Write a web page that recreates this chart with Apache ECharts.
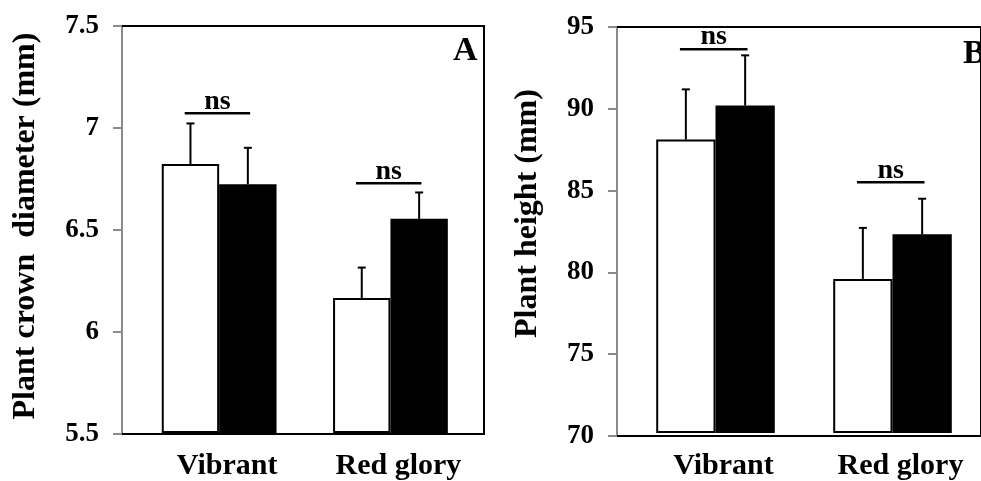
<!DOCTYPE html>
<html><head><meta charset="utf-8">
<script src="https://cdn.jsdelivr.net/npm/echarts@6/dist/echarts.min.js"></script>
<style>html,body{margin:0;padding:0;background:#fff}#c{width:981px;height:481px}</style>
</head><body><div id="c"></div>
<script>
// ---- data ----
const categories = ['Vibrant', 'Red glory'];
const panelLabels = ['A', 'B'];
const sigLabel = 'ns';

// Panel A: plant crown diameter (mm)
const crownOpen = [6.82, 6.16];
const crownOpenErr = [0.20, 0.15];
const crownFilled = [6.72, 6.55];
const crownFilledErr = [0.18, 0.13];
const crownNsLevel = [7.07, 6.725];
const crownMin = 5.5, crownMax = 7.5, crownStep = 0.5;
const crownTitle = 'Plant crown  diameter (mm)';

// Panel B: plant height (mm)
const heightOpen = [88.05, 79.45];
const heightOpenErr = [3.10, 3.15];
const heightFilled = [90.15, 82.2];
const heightFilledErr = [3.10, 2.2];
const heightNsLevel = [93.63, 85.41];
const heightMin = 70, heightMax = 95, heightStep = 5;
const heightTitle = 'Plant height (mm)';

// ---- styles ----
const FONT = '"Liberation Serif", "Times New Roman", serif';
const GAP = 0.33;
const AXIS_GRAY = '#8a8a8a';

function errRender(side) {
  return function (params, api) {
    const cat = api.value(0), top = api.value(1), up = api.value(2);
    const band = api.size([1, 0])[0];
    const bw = band * (1 - GAP) / 2;
    const p0 = api.coord([cat, top]);
    const p1 = api.coord([cat, up]);
    const cx = p0[0] + side * bw / 2;
    return {
      type: 'group', children: [
        { type: 'line', shape: { x1: cx, y1: p0[1], x2: cx, y2: p1[1] }, style: { stroke: '#000', lineWidth: 2 } },
        { type: 'line', shape: { x1: cx - 4, y1: p1[1], x2: cx + 4, y2: p1[1] }, style: { stroke: '#000', lineWidth: 2 } }
      ]
    };
  };
}
function nsRender(params, api) {
  const p = api.coord([api.value(0), api.value(1)]);
  const band = api.size([1, 0])[0];
  const bw = band * (1 - GAP) / 2;
  const x1 = p[0] - bw * 0.6, x2 = p[0] + bw * 0.54;
  return {
    type: 'group', children: [
      { type: 'line', shape: { x1: x1, y1: p[1], x2: x2, y2: p[1] }, style: { stroke: '#000', lineWidth: 2.5 } },
      { type: 'text', x: (x1 + x2) / 2, y: p[1] + 2,
        style: { text: sigLabel, fill: '#000', fontSize: 28, fontWeight: 'bold', fontFamily: FONT, align: 'center', verticalAlign: 'bottom' } }
    ]
  };
}

function frameAxes(gi, min, max, step, title, nameGap, namePad) {
  const xs = [
    { gridIndex: gi, type: 'category', data: categories, position: 'bottom',
      axisLine: { lineStyle: { color: '#000', width: 2 } }, axisTick: { show: false }, axisLabel: { show: false } },
    { gridIndex: gi, type: 'category', data: categories, position: 'top',
      axisLine: { lineStyle: { color: '#000', width: 2 } }, axisTick: { show: false }, axisLabel: { show: false } }
  ];
  const ys = [
    { gridIndex: gi, type: 'value', min: min, max: max, interval: step, position: 'left',
      splitLine: { show: false },
      axisLine: { show: true, lineStyle: { color: AXIS_GRAY, width: 2 } },
      axisTick: { show: true, inside: false, length: 9, lineStyle: { color: AXIS_GRAY, width: 2 } },
      axisLabel: { color: '#000', fontSize: 27, fontWeight: 'bold', fontFamily: FONT, margin: 23 },
      name: title, nameLocation: 'middle', nameRotate: 90, nameGap: nameGap,
      nameTextStyle: { color: '#000', fontSize: 32, fontWeight: 'bold', fontFamily: FONT, padding: namePad } },
    { gridIndex: gi, type: 'value', min: min, max: max, interval: step, position: 'right',
      splitLine: { show: false },
      axisLine: { show: true, lineStyle: { color: '#000', width: 2 } },
      axisTick: { show: false }, axisLabel: { show: false } }
  ];
  return { xs, ys };
}
function barAxes(gi, min, max) {
  return {
    x: { gridIndex: gi, type: 'category', data: categories, position: 'bottom',
      axisLine: { show: false }, axisTick: { show: false },
      axisLabel: { color: '#000', fontSize: 30, fontWeight: 'bold', fontFamily: FONT, margin: 19, padding: [0, 0, 0, 16] } },
    y: { gridIndex: gi, type: 'value', min: min, max: max, show: false, splitLine: { show: false } }
  };
}

const fA = frameAxes(0, crownMin, crownMax, crownStep, crownTitle, 80, [0, 0, 0, 8]);
const bA = barAxes(1, crownMin, crownMax);
const fB = frameAxes(2, heightMin, heightMax, heightStep, heightTitle, 73, [0, 0, 0, 36]);
const bB = barAxes(3, heightMin, heightMax);

const xAxis = [fA.xs[0], fA.xs[1], bA.x, fB.xs[0], fB.xs[1], bB.x];
const yAxis = [fA.ys[0], fA.ys[1], bA.y, fB.ys[0], fB.ys[1], bB.y];

function panelSeries(xi, yi, open, openErr, filled, filledErr, ns) {
  return [
    { type: 'bar', xAxisIndex: xi, yAxisIndex: yi, data: open, barGap: '0%', barCategoryGap: (GAP * 100) + '%',
      itemStyle: { color: '#fff', borderColor: '#000', borderWidth: 2 }, z: 2 },
    { type: 'bar', xAxisIndex: xi, yAxisIndex: yi, data: filled, barGap: '0%', barCategoryGap: (GAP * 100) + '%',
      itemStyle: { color: '#000', borderColor: '#000', borderWidth: 2 }, z: 2 },
    { type: 'custom', xAxisIndex: xi, yAxisIndex: yi, renderItem: errRender(-1), z: 3,
      data: categories.map((c, i) => [i, open[i], open[i] + openErr[i]]) },
    { type: 'custom', xAxisIndex: xi, yAxisIndex: yi, renderItem: errRender(1), z: 3,
      data: categories.map((c, i) => [i, filled[i], filled[i] + filledErr[i]]) },
    { type: 'custom', xAxisIndex: xi, yAxisIndex: yi, renderItem: nsRender, z: 3,
      data: categories.map((c, i) => [i, ns[i]]) }
  ];
}

const option = {
  animation: false,
  backgroundColor: '#fff',
  title: [
    { text: panelLabels[0], left: 453, top: 34, padding: 0,
      textStyle: { color: '#000', fontSize: 34, fontWeight: 'bold', fontFamily: FONT } },
    { text: panelLabels[1], left: 963, top: 37, padding: 0,
      textStyle: { color: '#000', fontSize: 34, fontWeight: 'bold', fontFamily: FONT } }
  ],
  grid: [
    { left: 122, top: 26, width: 362, height: 408 },
    { left: 133.5, top: 26, width: 342.6, height: 408 },
    { left: 617, top: 27, width: 375, height: 409 },
    { left: 627, top: 27, width: 355.4, height: 409 }
  ],
  xAxis: xAxis,
  yAxis: yAxis,
  series: [].concat(
    panelSeries(2, 2, crownOpen, crownOpenErr, crownFilled, crownFilledErr, crownNsLevel),
    panelSeries(5, 5, heightOpen, heightOpenErr, heightFilled, heightFilledErr, heightNsLevel)
  )
};
const chart = echarts.init(document.getElementById('c'), null, { renderer: 'canvas' });
chart.setOption(option);
</script></body></html>
